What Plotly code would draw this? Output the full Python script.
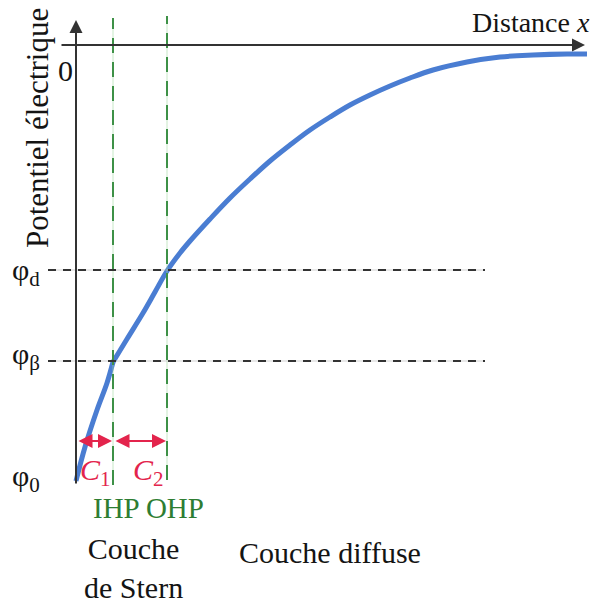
import plotly.graph_objects as go

# ---- data (distance from surface, potential; origin at the axes crossing) ----
# Stern-layer part (surface -> IHP) and outer part (IHP -> bulk)
inner_x = [0, 9, 21, 31, 37]
inner_y = [-436, -402, -365, -338, -317]
outer_x = [37, 51, 67, 79, 91, 104, 114, 134, 154, 174, 194, 214, 234,
           254, 274, 294, 314, 334, 357, 391, 424, 457, 491, 511]
outer_y = [-317, -294, -268, -247, -226, -208, -196, -174, -153, -134, -116,
           -100, -85, -72, -60, -50, -41, -33, -25, -17, -12, -10, -9, -9]

phi_names = ["φ<sub>0</sub>", "φ<sub>β</sub>", "φ<sub>d</sub>"]
phi_levels = [-436, -316, -225]
plane_names = ["IHP", "OHP"]
plane_x = [37, 91]
cap_names = ["<i>C</i><sub>1</sub>", "<i>C</i><sub>2</sub>"]

FONT = "Liberation Serif"
BLUE = "#4A7DD2"
GREEN = "#3E9147"
RED = "#E3244C"
DARK = "#333333"
TXT = "#141414"

fig = go.Figure()

# vertical dashed plane lines (IHP, OHP)
plane_top = [27, 29]
plane_bot = [-440, -435]
for px, top, bot in zip(plane_x, plane_top, plane_bot):
    fig.add_shape(type="line", x0=px, x1=px, y0=bot, y1=top,
                  line=dict(color="rgba(160,215,160,0.6)", width=1))
    fig.add_shape(type="line", x0=px, x1=px, y0=bot, y1=top,
                  line=dict(color=GREEN, width=2, dash="15px,9px"))

# horizontal dashed reference lines for phi_beta and phi_d
for lvl in phi_levels[1:]:
    fig.add_shape(type="line", x0=-28, x1=409, y0=lvl, y1=lvl,
                  line=dict(color="rgba(180,180,180,0.6)", width=1))
    fig.add_shape(type="line", x0=-28, x1=409, y0=lvl, y1=lvl,
                  line=dict(color=DARK, width=2, dash="8px,7px"))

# axes with arrows
fig.add_annotation(x=0, y=25, ax=0, ay=-440, xref="x", yref="y",
                   axref="x", ayref="y", text="", showarrow=True,
                   arrowhead=2, arrowsize=1.3, arrowwidth=2, arrowcolor=DARK)
fig.add_annotation(x=509, y=0, ax=-16, ay=0, xref="x", yref="y",
                   axref="x", ayref="y", text="", showarrow=True,
                   arrowhead=2, arrowsize=1.3, arrowwidth=2, arrowcolor=DARK)

# curve (two smooth pieces meeting at the IHP)
for cx, cy in ((inner_x, inner_y), (outer_x, outer_y)):
    fig.add_trace(go.Scatter(x=cx, y=cy, mode="lines",
                             line=dict(color=BLUE, width=5, shape="spline", smoothing=1.0),
                             showlegend=False, hoverinfo="skip"))

# red capacitance arrows
arrow_y = -396
bounds = [0] + plane_x
for i in range(2):
    fig.add_annotation(x=bounds[i + 1] - 1, y=arrow_y, ax=bounds[i] + 1, ay=arrow_y,
                       xref="x", yref="y", axref="x", ayref="y", text="",
                       showarrow=True, arrowhead=2, startarrowhead=2,
                       arrowside="end+start", arrowsize=1.4, startarrowsize=1.4,
                       arrowwidth=2, arrowcolor=RED)

# capacitance labels
cap_x = [19, 72]
for name, cx in zip(cap_names, cap_x):
    fig.add_annotation(x=cx, y=-427, text=name, showarrow=False,
                       font=dict(family=FONT, size=30, color=RED),
                       xanchor="center", yanchor="middle")

# phi labels
phi_label_y = [-433, -311, -227]
for name, ly in zip(phi_names, phi_label_y):
    fig.add_annotation(x=-66, y=ly, text=name, showarrow=False,
                       font=dict(family=FONT, size=30, color=TXT),
                       xanchor="left", yanchor="middle")

# zero label
fig.add_annotation(x=-11, y=-25, text="0", showarrow=False,
                   font=dict(family=FONT, size=30, color=TXT),
                   xanchor="center", yanchor="middle")

# IHP OHP
fig.add_annotation(x=72, y=-463, text=" ".join(plane_names), showarrow=False,
                   font=dict(family=FONT, size=29, color="#2E7D32"),
                   xanchor="center", yanchor="middle")

# axis titles
fig.add_annotation(x=-39, y=-83, text="Potentiel électrique", showarrow=False,
                   textangle=-90, font=dict(family=FONT, size=31, color=TXT),
                   xanchor="center", yanchor="middle")
fig.add_annotation(x=455, y=23, text="Distance <i>x</i>", showarrow=False,
                   font=dict(family=FONT, size=28, color=TXT),
                   xanchor="center", yanchor="middle")

# layer labels
fig.add_annotation(x=57, y=-523, text="Couche<br>de Stern", showarrow=False,
                   font=dict(family=FONT, size=30, color=TXT),
                   xanchor="center", yanchor="middle", align="center")
fig.add_annotation(x=254, y=-507, text="Couche diffuse", showarrow=False,
                   font=dict(family=FONT, size=30, color=TXT),
                   xanchor="center", yanchor="middle")

# page body has an 8px default margin: figure is sized/ranged to compensate
fig.update_xaxes(range=[-68, 523], visible=False, fixedrange=True)
fig.update_yaxes(range=[-558, 37], visible=False, fixedrange=True)
fig.update_layout(width=591, height=595,
                  margin=dict(l=0, r=0, t=0, b=0, autoexpand=False),
                  plot_bgcolor="white", paper_bgcolor="white",
                  showlegend=False)

fig.write_html("out.html")
